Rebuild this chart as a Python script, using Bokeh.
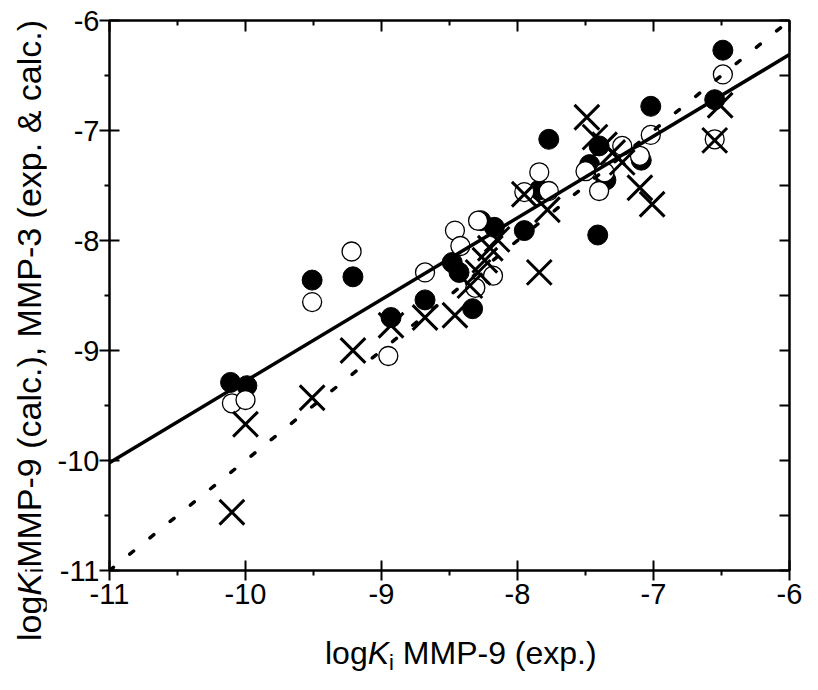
from bokeh.plotting import figure
from bokeh.models import LinearAxis, Range1d, FixedTicker, PrintfTickFormatter, Div
from bokeh.layouts import row, column
from bokeh.embed import file_html
from bokeh.resources import INLINE

# ---------------- data ----------------
# filled circles
filled_x = [-10.11, -9.99, -9.51, -9.21, -8.93, -8.68, -8.33, -8.48, -8.43, -8.27, -8.17,
            -7.95, -7.84, -7.77, -7.47, -7.40, -7.41, -7.35, -7.09, -7.02, -6.55, -6.49]
filled_y = [-9.29, -9.32, -8.36, -8.33, -8.70, -8.54, -8.62, -8.20, -8.29, -7.82, -7.88,
            -7.91, -7.54, -7.08, -7.31, -7.14, -7.95, -7.45, -7.27, -6.78, -6.72, -6.27]
# open circles
open_x = [-10.10, -10.00, -9.51, -9.22, -8.95, -8.68, -8.46, -8.42, -8.18, -8.31, -8.29,
          -7.84, -7.77, -7.95, -7.50, -7.40, -7.36, -7.23, -7.10, -7.02, -6.55, -6.49]
open_y = [-9.48, -9.45, -8.56, -8.10, -9.05, -8.29, -7.91, -8.05, -8.32, -8.43, -7.82,
          -7.38, -7.55, -7.56, -7.37, -7.55, -7.38, -7.14, -7.23, -7.04, -7.08, -6.49]
# crosses
cross_x = [-10.10, -10.00, -9.51, -9.21, -8.93, -8.68, -8.46, -8.35, -8.29, -8.24, -8.20, -8.15,
           -7.84, -7.95, -7.78, -7.49, -7.43, -7.36, -7.30, -7.23, -7.10, -7.01, -6.55, -6.51]
cross_y = [-10.47, -9.67, -9.43, -9.00, -8.77, -8.70, -8.68, -8.41, -8.29, -8.18, -8.07, -7.99,
           -8.29, -7.58, -7.72, -6.88, -7.06, -7.13, -7.20, -7.29, -7.52, -7.67, -7.09, -6.77]
# regression (solid) and identity (dotted) lines
fit_x = [-11.0, -6.0]
fit_y = [-10.02, -6.31]
diag_x = [-11.0, -6.0]
diag_y = [-11.0, -6.0]

major_ticks = [-11, -10, -9, -8, -7, -6]
minor_ticks = [-10.5, -9.5, -8.5, -7.5, -6.5]

FONT = "Liberation Sans"

p = figure(width=756, height=624, x_range=Range1d(-11, -6), y_range=Range1d(-11, -6),
           output_backend="svg", toolbar_location=None,
           min_border_left=63, min_border_right=13, min_border_top=20, min_border_bottom=54)
p.xgrid.visible = False
p.ygrid.visible = False
p.outline_line_color = "black"
p.outline_line_width = 2
p.background_fill_color = "white"
p.border_fill_color = "white"

for ax in (p.xaxis[0], p.yaxis[0]):
    ax.ticker = FixedTicker(ticks=major_ticks, minor_ticks=minor_ticks)
    ax.formatter = PrintfTickFormatter(format="%d")
    ax.axis_line_width = 2
    ax.major_tick_line_width = 2
    ax.minor_tick_line_width = 2
    ax.major_tick_in = 10
    ax.major_tick_out = 10
    ax.minor_tick_in = 0
    ax.minor_tick_out = 5
    ax.major_label_text_font = FONT
    ax.major_label_text_font_size = "29px"
    ax.major_label_text_color = "black"
p.xaxis[0].major_label_standoff = 3
p.yaxis[0].major_label_standoff = 0

top = LinearAxis(ticker=FixedTicker(ticks=major_ticks, minor_ticks=minor_ticks),
                 major_label_text_font_size="1px", major_label_text_color=None, major_label_standoff=0,
                 axis_line_width=2, major_tick_line_width=2, minor_tick_line_width=2,
                 major_tick_in=11, major_tick_out=0, minor_tick_in=5, minor_tick_out=0)
right = LinearAxis(ticker=FixedTicker(ticks=major_ticks, minor_ticks=minor_ticks),
                   major_label_text_font_size="1px", major_label_text_color=None, major_label_standoff=0,
                   axis_line_width=2, major_tick_line_width=2, minor_tick_line_width=2,
                   major_tick_in=10, major_tick_out=0, minor_tick_in=10, minor_tick_out=0)
p.add_layout(top, "above")
p.add_layout(right, "right")

# markers
p.scatter(filled_x, filled_y, marker="circle", size=20, fill_color="black", line_color="black")
p.scatter(open_x, open_y, marker="circle", size=19, fill_color="white", line_color="black", line_width=1.3)
p.scatter(cross_x, cross_y, marker="x", size=35, line_color="black", line_width=3)

# lines
p.line(fit_x, fit_y, line_color="black", line_width=3.5)
p.line(diag_x, diag_y, line_color="black", line_width=3.5, line_dash="5 21", line_cap="round")

# ---- axis titles (log, italic K, subscript i) as HTML text ----
x_title = ('<div style="font-family:\'Liberation Sans\'; font-size:32px; line-height:36px; '
           'white-space:nowrap; padding-left:279px; padding-top:11px; color:black;">'
           'log<i>K</i><sub style="font-size:22px; line-height:0; vertical-align:-6px;">i</sub>'
           ' MMP-9 (exp.)</div>')
y_title = ('<div style="height:641px; width:58px; display:flex; flex-direction:column; '
           'justify-content:flex-end; align-items:center;">'
           '<div style="writing-mode:vertical-rl; transform:rotate(180deg); display:inline-block; '
           'font-family:\'Liberation Sans\'; font-size:34px; line-height:40px; white-space:nowrap; '
           'color:black;">'
           'log<i>K</i><sub style="font-size:23px; line-height:0; vertical-align:-6px;">i</sub>'
           'MMP-9 (calc.), MMP-3 (exp. &amp; calc.)</div></div>')

xdiv = Div(text=x_title, width=756, height=50, margin=0, styles={"overflow": "visible"})
ydiv = Div(text=y_title, width=46, height=674, margin=0, styles={"overflow": "visible"})

layout = row(ydiv, column(p, xdiv, spacing=0), spacing=0)

open("out.html", "w").write(file_html(layout, INLINE))
